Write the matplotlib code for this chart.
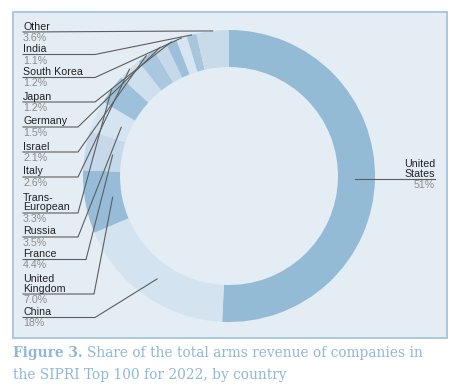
import matplotlib.pyplot as plt
import numpy as np
from matplotlib.patches import Rectangle

# Share of total arms revenue, SIPRI Top 100, 2022 (clockwise from the top)
countries = ['United\nStates', 'China', 'United\nKingdom', 'France', 'Russia',
             'Trans-\nEuropean', 'Italy', 'Israel', 'Germany', 'Japan',
             'South Korea', 'India', 'Other']
shares = [51, 18, 7.0, 4.4, 3.5, 3.3, 2.6, 2.1, 1.5, 1.2, 1.2, 1.1, 3.6]
share_labels = ['51%', '18%', '7.0%', '4.4%', '3.5%', '3.3%', '2.6%', '2.1%',
                '1.5%', '1.2%', '1.2%', '1.1%', '3.6%']

colors = ['#93bbd6', '#d4e3f0', '#96bcd8', '#c5d9ea', '#d4e4f0', '#9ec1db',
          '#cfdfed', '#a9c8df', '#c6d9ea', '#9cc0da', '#d6e5f1', '#a7c6de',
          '#c8dbea']

W, H = 457, 386
fig = plt.figure(figsize=(W / 100, H / 100), dpi=100)
ax = fig.add_axes([0, 0, 1, 1])

# panel background
ax.add_patch(Rectangle((13, H - 338), 434, 326, facecolor='#e4ecf4',
                       edgecolor='#a9c9df', linewidth=1.4, zorder=0))

cx, cy, R = 229, H - 176, 146
wedges, _ = ax.pie(shares, colors=colors, startangle=90, counterclock=False,
                   radius=R, center=(cx, cy), frame=True,
                   wedgeprops=dict(width=37, linewidth=0))
ax.set_xlim(0, W)
ax.set_ylim(0, H)
ax.set_aspect('equal')
ax.axis('off')

# label layout (pixel rows of the underline, knee of the leader, tip radius)
label_y = [179.3, 317.5, 294, 259.5, 237, 213, 177, 152, 127, 102, 77.5, 54.5, 32]
knee_x = [None, 95, 94, 86, 78, 78, 78, 78, 78, 95, 95, 95, None]
tip_r = [0.86, 0.86, 0.81, 0.81, 0.81, 1.0, 1.0, 1.0, 1.0, 1.0, 1.0, 1.0, 1.0]

font = 'Liberation Sans'
fs = 7.7
line_kw = dict(color='#5e5e5e', linewidth=0.8, zorder=3)

for i, w in enumerate(wedges):
    mid = np.deg2rad((w.theta1 + w.theta2) / 2)
    tx = cx + tip_r[i] * R * np.cos(mid)
    ty = cy + tip_r[i] * R * np.sin(mid)
    yu = H - label_y[i]
    if i == 0:
        # right-hand label for the United States
        ax.plot([tx, 435], [yu, yu], **line_kw)
        ax.text(435, yu + 0.5, countries[i], ha='right', va='bottom',
                multialignment='right', fontsize=fs, family=font,
                color='#222222', linespacing=0.95)
        ax.text(435, yu - 1, share_labels[i], ha='right', va='top',
                fontsize=fs, family=font, color='#8c8c8c')
        continue
    if knee_x[i] is None:
        ax.plot([23, tx], [yu, ty], **line_kw)
    else:
        ax.plot([23, knee_x[i], tx], [yu, yu, ty], **line_kw)
    ax.text(23, yu + 0.5, countries[i], ha='left', va='bottom',
            fontsize=fs, family=font, color='#222222', linespacing=0.95)
    ax.text(23, yu - 1, share_labels[i], ha='left', va='top',
            fontsize=fs, family=font, color='#8c8c8c')

# caption
cap_color = '#8fb8d8'
cap_fs = 9.95
t1 = fig.text(13 / W, 1 - 353 / H, 'Figure 3.', fontsize=cap_fs,
              family='DejaVu Serif', fontweight='bold', color=cap_color,
              va='center', ha='left')
fig.canvas.draw()
bb = t1.get_window_extent(fig.canvas.get_renderer())
fig.text((bb.x1 + 4) / W, 1 - 353 / H,
         'Share of the total arms revenue of companies in',
         fontsize=cap_fs, family='DejaVu Serif', color=cap_color,
         va='center', ha='left')
fig.text(13 / W, 1 - 375 / H, 'the SIPRI Top 100 for 2022, by country',
         fontsize=cap_fs, family='DejaVu Serif', color=cap_color,
         va='center', ha='left')

fig.savefig('out.png', dpi=100, facecolor='white')
